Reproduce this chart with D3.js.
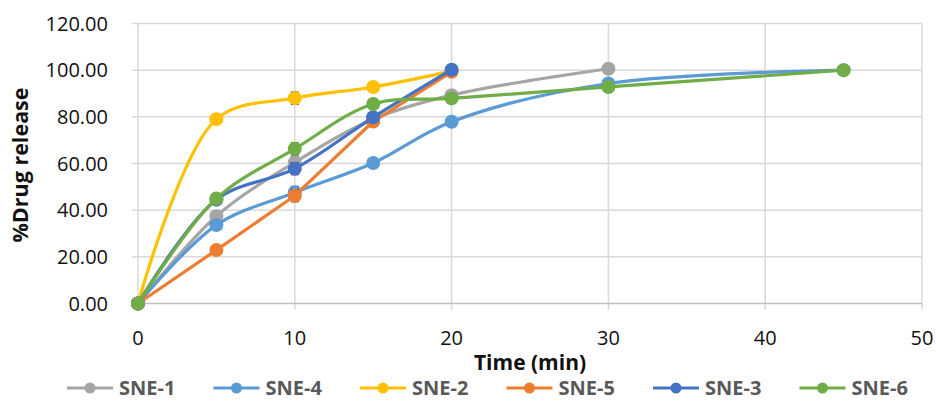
<!DOCTYPE html>
<html>
<head>
<meta charset="utf-8">
<script src="https://cdn.jsdelivr.net/npm/d3@7"></script>
<style>
  body { margin: 0; background: #fff; }
  svg { display: block; font-family: "Open Sans", sans-serif; }
</style>
</head>
<body>
<svg id="chart" width="936" height="408"></svg>
<script>
// data
const times = [0, 5, 10, 15, 20, 30, 45];
const sne1 = [0, 37.4, 60.5, 79.0, 89.3, 100.6];
const sne4 = [0, 33.6, 47.6, 60.2, 77.9, 94.3, 100.0];
const sne2 = [0, 79.0, 88.0, 92.8, 99.6];
const sne5 = [0, 22.9, 46.2, 78.0, 99.3];
const sne3 = [0, 44.5, 57.8, 79.8, 100.2];
const sne6 = [0, 45.0, 66.3, 85.5, 87.9, 92.8, 100.0];
const errs = [0, 1.2, 2.6, 1.5, 1.6, 1.2, 1.8];
const yTicks = [0, 20, 40, 60, 80, 100, 120];
const xTicks = [0, 10, 20, 30, 40, 50];

const series = [
  {name: "SNE-1", vals: sne1, color: "#A5A5A5", smooth: true},
  {name: "SNE-4", vals: sne4, color: "#5B9BD5", smooth: true},
  {name: "SNE-2", vals: sne2, color: "#FFC000", smooth: true},
  {name: "SNE-5", vals: sne5, color: "#ED7D31", smooth: false},
  {name: "SNE-3", vals: sne3, color: "#4472C4", smooth: true},
  {name: "SNE-6", vals: sne6, color: "#70AD47", smooth: true}
];

const plot_left = 138, plot_right = 922, plot_top = 23.5, plot_bottom = 303.5;
const text_col = "#111";
const svg = d3.select("#chart");

const x = d3.scaleLinear().domain([0, 50]).range([plot_left, plot_right]);
const y = d3.scaleLinear().domain([0, 120]).range([plot_bottom, plot_top]);

// grid
svg.append("g").selectAll("line").data(yTicks.slice(1)).join("line")
  .attr("x1", plot_left - 6).attr("x2", plot_right)
  .attr("y1", d => y(d)).attr("y2", d => y(d))
  .attr("stroke", "#d9d9d9").attr("stroke-width", 1.5);
svg.append("g").selectAll("line").data(xTicks).join("line")
  .attr("x1", d => x(d)).attr("x2", d => x(d))
  .attr("y1", plot_top).attr("y2", plot_bottom + 6)
  .attr("stroke", "#d9d9d9").attr("stroke-width", 1.5);
svg.append("line")
  .attr("x1", plot_left - 6).attr("x2", plot_right)
  .attr("y1", plot_bottom).attr("y2", plot_bottom)
  .attr("stroke", "#bfbfbf").attr("stroke-width", 1.5);

// tick labels
svg.append("g").selectAll("text").data(yTicks).join("text")
  .attr("x", 108).attr("y", d => y(d))
  .attr("dy", "0.36em").attr("text-anchor", "end")
  .attr("font-size", 20).attr("fill", text_col)
  .text(d => d.toFixed(2));
svg.append("g").selectAll("text").data(xTicks).join("text")
  .attr("x", d => x(d)).attr("y", 338)
  .attr("dy", "0.36em").attr("text-anchor", "middle")
  .attr("font-size", 20).attr("fill", text_col)
  .text(d => d);

// axis titles
svg.append("text")
  .attr("x", (plot_left + plot_right) / 2).attr("y", 362).attr("dy", "0.36em")
  .attr("text-anchor", "middle").attr("font-size", 21).attr("font-weight", "bold")
  .attr("fill", text_col).text("Time (min)");
svg.append("text")
  .attr("transform", "translate(20,165) rotate(-90)")
  .attr("dy", "0.36em").attr("text-anchor", "middle")
  .attr("font-size", 21.5).attr("font-weight", "bold")
  .attr("fill", text_col).text("%Drug release");

// lines, error bars, markers
series.forEach(s => {
  const pts = s.vals.map((v, i) => ({t: times[i], v: v, e: errs[i]}));
  const line = d3.line().x(d => x(d.t)).y(d => y(d.v))
    .curve(s.smooth ? d3.curveCatmullRom.alpha(0.5) : d3.curveLinear);
  const g = svg.append("g");
  g.append("path").datum(pts).attr("d", line)
    .attr("fill", "none").attr("stroke", s.color).attr("stroke-width", 3.2)
    .attr("stroke-linejoin", "round");
  const eb = g.selectAll(".eb").data(pts.filter(d => d.e > 0)).join("g");
  eb.append("line")
    .attr("x1", d => x(d.t)).attr("x2", d => x(d.t))
    .attr("y1", d => y(d.v + d.e)).attr("y2", d => y(d.v - d.e))
    .attr("stroke", "#404040").attr("stroke-width", 1.2);
  [1, -1].forEach(k => eb.append("line")
    .attr("x1", d => x(d.t) - 4).attr("x2", d => x(d.t) + 4)
    .attr("y1", d => y(d.v + k * d.e)).attr("y2", d => y(d.v + k * d.e))
    .attr("stroke", "#404040").attr("stroke-width", 1.2));
  g.selectAll("circle").data(pts).join("circle")
    .attr("cx", d => x(d.t)).attr("cy", d => y(d.v)).attr("r", 7)
    .attr("fill", s.color);
});

// legend
const legendX = [67, 213.5, 360, 506.5, 653, 799.5];
const lg = svg.append("g").selectAll("g").data(series).join("g")
  .attr("transform", (d, i) => "translate(" + legendX[i] + ",388)");
lg.append("line").attr("x1", 0).attr("x2", 46)
  .attr("stroke", d => d.color).attr("stroke-width", 3.2);
lg.append("circle").attr("cx", 23).attr("r", 5.5).attr("fill", d => d.color);
lg.append("text").attr("x", 52).attr("dy", "0.36em")
  .attr("font-size", 20).attr("font-weight", "bold").attr("fill", "#595959")
  .text(d => d.name);
</script>
</body>
</html>
